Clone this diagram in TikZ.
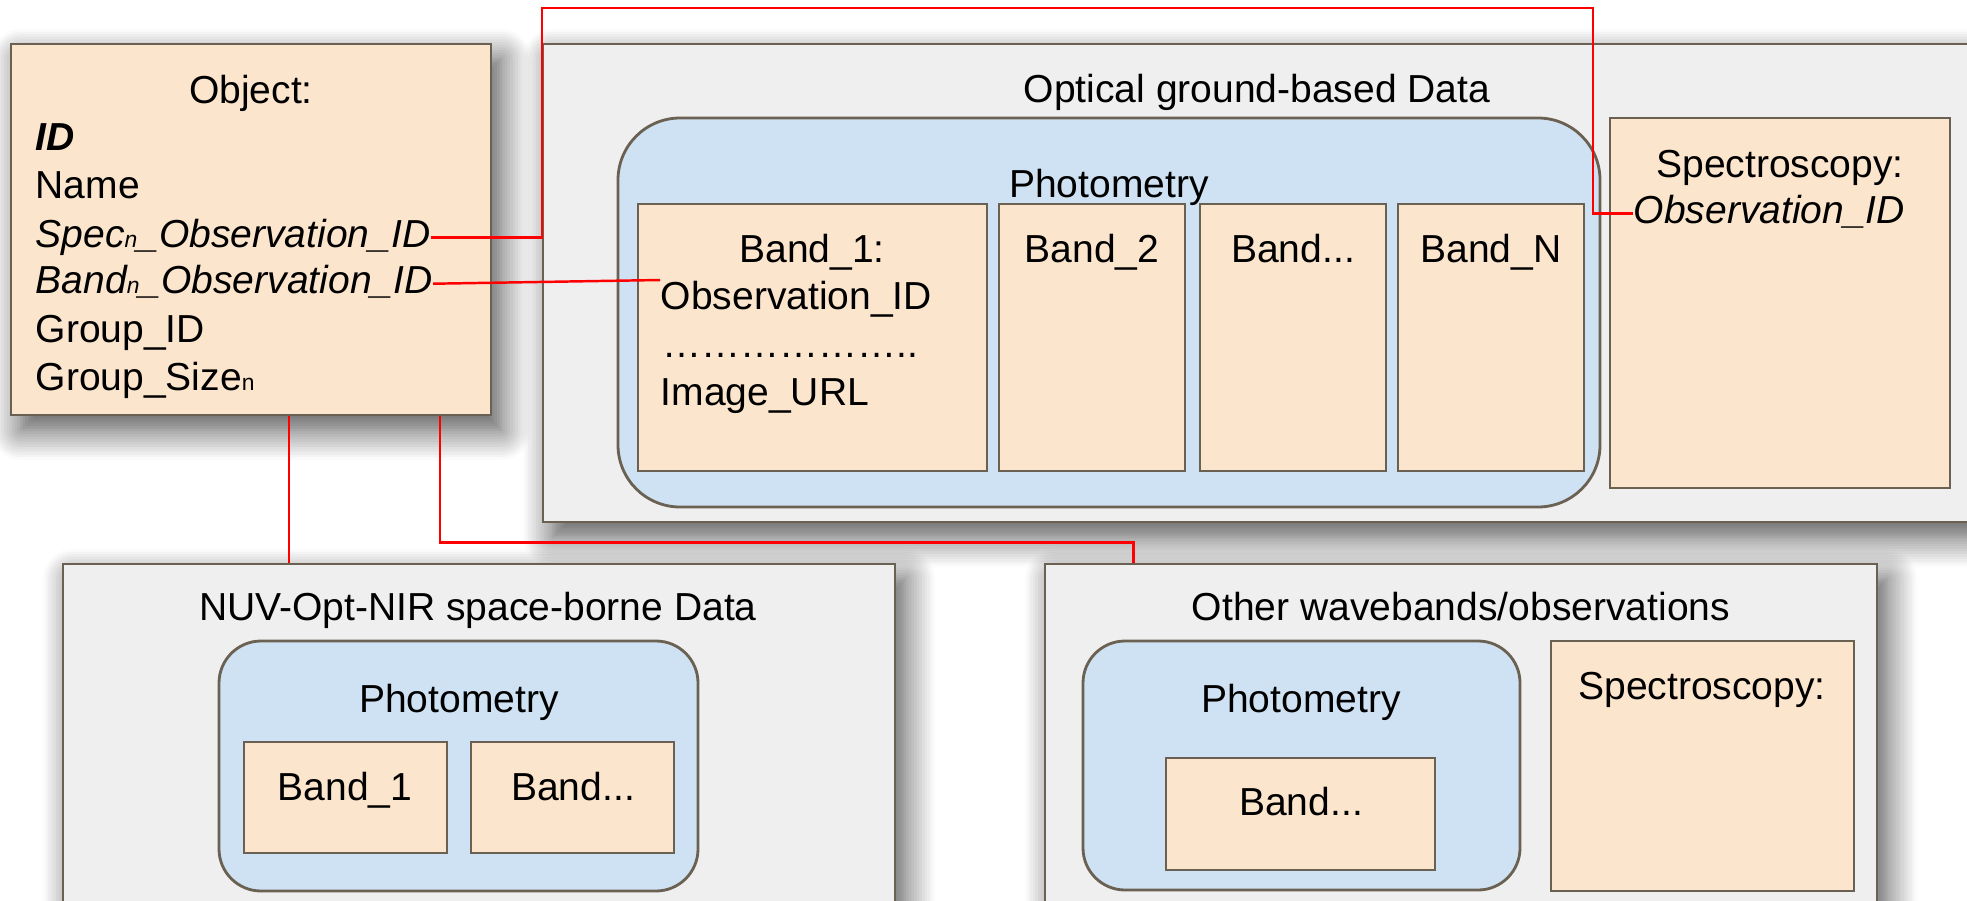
\documentclass[tikz,border=0pt]{standalone}
\usepackage{fontspec}
\setmainfont{Liberation Sans}
\usetikzlibrary{positioning, calc, fit, shadows.blur}

\definecolor{peach}{HTML}{FCE5CD}
\definecolor{skyblue}{HTML}{CFE2F3}
\definecolor{panelgray}{HTML}{EFEFEF}
\definecolor{edge}{HTML}{6B6152}
\newcommand{\subn}{{\fontsize{6.5pt}{6.5pt}\selectfont n}}

\begin{document}
\begin{tikzpicture}[x=0.01cm, y=-0.01cm,
    font=\fontsize{11.1pt}{13.6pt}\selectfont,
    shadowed/.style={blur shadow={shadow xshift=0.1cm, shadow yshift=-0.15cm,
        shadow blur radius=0.3cm, shadow blur steps=12, shadow opacity=70}},
    panel/.style={draw=edge, fill=panelgray, line width=0.8pt, inner sep=0pt, shadowed},
    entity/.style={draw=edge, fill=peach, line width=0.8pt, inner sep=0pt},
    photgroup/.style={draw=edge, fill=skyblue, line width=0.8pt, inner sep=0pt, rounded corners=0.42cm},
    heading/.style={inner sep=0pt, anchor=base},
    field/.style={inner sep=0pt, anchor=base west},
    link/.style={draw=red, line width=0.7pt}]
    \useasboundingbox (0,0) rectangle (1967,900);
    \clip (0,0) rectangle (1967,900);

    % Optical ground-based data
    \node[panel, fit={(543,44) (2010,522)}] (optical) {};
    \node[heading] (opticaltitle) at (1257,102) {Optical ground-based Data};
    \node[photgroup, rounded corners=0.62cm, fit={(618,118) (1600,507)}] (optphot) {};
    \node[heading] (optphottitle) at (1109,197) {Photometry};
    \node[entity, fit={(638,204) (987,471)}] (oband1) {};
    \node[entity, fit={(999,204) (1185,471)}] (oband2) {};
    \node[entity, fit={(1200,204) (1386,471)}] (obanddots) {};
    \node[entity, fit={(1398,204) (1584,471)}] (obandn) {};
    \node[heading] (oband1title) at (812,262) {Band\_1:};
    \node[field] (b1obs) at (660,309) {Observation\_ID};
    \node[field] (b1dots) at (662,357) {\textellipsis\textellipsis\textellipsis\textellipsis\textellipsis\textellipsis..};
    \node[field] (b1url) at (660,405) {Image\_URL};
    \node[heading] (oband2title) at (1092,262) {Band\_2};
    \node[heading] (obanddotstitle) at (1293,262) {Band...};
    \node[heading] (obandntitle) at (1491,262) {Band\_N};
    \node[entity, fit={(1610,118) (1950,488)}] (optspec) {};
    \node[heading] (optspectitle) at (1780,177) {Spectroscopy:};
    \node[field] (specobs) at (1633,223) {\itshape Observation\_ID};

    % Object
    \node[entity, shadowed, fit={(11,44) (491,415)}] (obj) {};
    \node[heading] (objtitle) at (251,103) {Object:};
    \node[field] (objid) at (35,150) {\bfseries\itshape ID};
    \node[field] (objname) at (35,198) {Name};
    \node[field] (specn) at (35,247) {\itshape Spec\subn\_Observation\_ID};
    \node[field] (bandn) at (35,293) {\itshape Band\subn\_Observation\_ID};
    \node[field] (grpid) at (35,342) {Group\_ID};
    \node[field] (grpsize) at (35,390) {Group\_Size\subn};

    % NUV-Opt-NIR space-borne data
    \node[panel, fit={(63,564) (895,950)}] (nuv) {};
    \node[heading] (nuvtitle) at (478,620) {NUV-Opt-NIR space-borne Data};
    \node[photgroup, fit={(219,641) (698,891)}] (nuvphot) {};
    \node[heading] (nuvphottitle) at (459,712) {Photometry};
    \node[entity, fit={(244,742) (447,853)}] (nband1) {};
    \node[heading] (nband1title) at (345,800) {Band\_1};
    \node[entity, fit={(471,742) (674,853)}] (nbanddots) {};
    \node[heading] (nbanddotstitle) at (573,800) {Band...};

    % Other wavebands
    \node[panel, fit={(1045,564) (1877,950)}] (other) {};
    \node[heading] (othertitle) at (1461,620) {Other wavebands/observations};
    \node[photgroup, fit={(1083,641) (1520,890)}] (othphot) {};
    \node[heading] (othphottitle) at (1301,712) {Photometry};
    \node[entity, fit={(1166,758) (1435,870)}] (othband) {};
    \node[heading] (othbandtitle) at (1301,815) {Band...};
    \node[entity, fit={(1551,641) (1854,891)}] (othspec) {};
    \node[heading] (othspectitle) at (1702,699) {Spectroscopy:};

    % Links
    \coordinate (railwest) at (542,8);
    \coordinate (raileast) at (1593,8);
    \draw[link] (specn.mid east) -| (railwest) -- (raileast) |- (specobs.mid west);
    \draw[link] (bandn.mid east) -- (b1obs.north west);
    \coordinate (drop1) at ([xshift=2.79cm]obj.south west);
    \draw[link] (drop1) -- (drop1 |- nuv.north);
    \coordinate (drop2) at ([xshift=4.3cm]obj.south west);
    \coordinate (hook) at ([xshift=0.9cm]other.north west);
    \draw[link] (drop2) |- ([yshift=0.2cm]hook) -- (hook);
\end{tikzpicture}
\end{document}
